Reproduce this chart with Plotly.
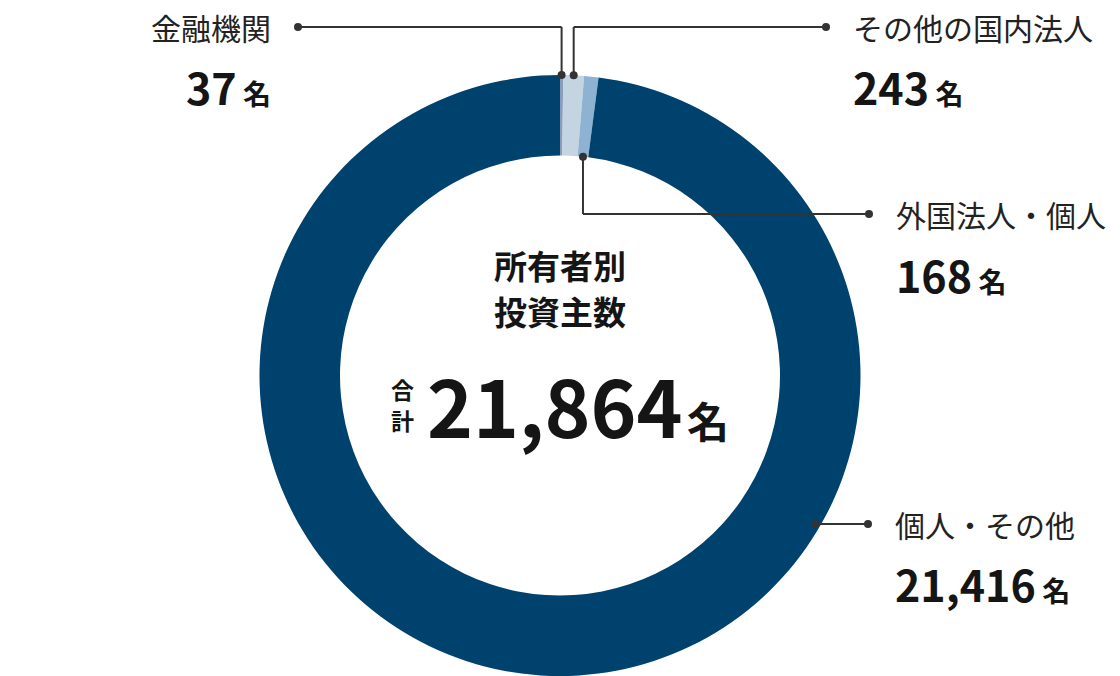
import math
import plotly.graph_objects as go

# ---- data ----
categories = ["金融機関", "その他の国内法人", "外国法人・個人", "個人・その他"]
values = [37, 243, 168, 21416]
colors = ["#8b9cba", "#c4d4e0", "#8db2d2", "#00426e"]
total_label = "21,864"
total_prefix = ["合", "計"]
center_title = ["所有者別", "投資主数"]
unit = "名"

W, H = 1120, 676
CX, CY, R_OUT, R_IN = 560, 375.5, 300.5, 220

def px(x):
    return x / W

def py(y):
    return 1 - y / H

fig = go.Figure()
fig.add_trace(go.Pie(
    labels=categories, values=values, sort=False, direction="clockwise", rotation=0,
    hole=R_IN / R_OUT, marker=dict(colors=colors, line=dict(width=0)),
    textinfo="none", hoverinfo="skip", showlegend=False,
    domain=dict(x=[(CX - R_OUT) / W, (CX + R_OUT) / W], y=[0, 1 - (CY - R_OUT) / H]),
))

# anchor points derived from the data (mid angle of each slice)
tot = sum(values)
cum = 0
mids = []
for v in values:
    mids.append((cum + v / 2) / tot * 2 * math.pi)
    cum += v

def ring_pt(i, r):
    a = mids[i]
    return CX + r * math.sin(a), CY - r * math.cos(a)

LINE = "#333333"
shapes = []
dots = []

def poly(points):
    for (x0, y0), (x1, y1) in zip(points[:-1], points[1:]):
        shapes.append(dict(type="line", xref="paper", yref="paper",
                           x0=px(x0), y0=py(y0), x1=px(x1), y1=py(y1),
                           line=dict(color=LINE, width=2)))
    for p in (points[0], points[-1]):
        dots.append(p)

# 金融機関
ax, ay = ring_pt(0, R_OUT)
poly([(ax, ay), (ax, 27), (298, 27)])
# その他の国内法人
bx, by = ring_pt(1, R_OUT)
poly([(bx, by), (bx, 27), (826, 27)])
# 外国法人・個人
cx_, cy_ = ring_pt(2, R_IN)
poly([(cx_, cy_), (cx_, 214), (869, 214)])
# 個人・その他
poly([(815, 524), (868, 524)])

for (x, y) in dots:
    r = 4
    shapes.append(dict(type="circle", xref="paper", yref="paper",
                       x0=px(x - r), x1=px(x + r), y0=py(y + r), y1=py(y - r),
                       fillcolor=LINE, line=dict(width=0)))

FONT = "Noto Sans CJK JP"
ann = []

def label(text, x, y, anchor):
    ann.append(dict(text=text, x=px(x), y=py(y), xref="paper", yref="paper",
                    xanchor=anchor, yanchor="middle", showarrow=False,
                    font=dict(family=FONT, size=30, color="#222222")))

def number(val, x, y, anchor):
    t = f"<b>{val}</b><span style='font-size:28px'><b> {unit}</b></span>"
    ann.append(dict(text=t, x=px(x), y=py(y), xref="paper", yref="paper",
                    xanchor=anchor, yanchor="middle", showarrow=False,
                    font=dict(family=FONT, size=43, color="#151515")))

label(categories[0], 273, 27, "right")
number(f"{values[0]:,}", 273, 86, "right")
label(categories[1], 851, 27, "left")
number(f"{values[1]:,}", 851, 86, "left")
label(categories[2], 894, 214, "left")
number(f"{values[2]:,}", 894, 274, "left")
label(categories[3], 893, 524, "left")
number(f"{values[3]:,}", 893, 583, "left")

# center text
for i, t in enumerate(center_title):
    ann.append(dict(text=f"<b>{t}</b>", x=px(560), y=py(265 + 46 * i), xref="paper", yref="paper",
                    xanchor="center", yanchor="middle", showarrow=False,
                    font=dict(family=FONT, size=33, color="#151515")))
for i, t in enumerate(total_prefix):
    ann.append(dict(text=f"<b>{t}</b>", x=px(402), y=py(389 + 31 * i), xref="paper", yref="paper",
                    xanchor="center", yanchor="middle", showarrow=False, borderpad=0,
                    font=dict(family=FONT, size=23, color="#151515")))
ann.append(dict(text=f"<b>{total_label}</b><span style='font-size:20px'> </span>"
                     f"<span style='font-size:42px'><b>{unit}</b></span>",
                x=px(426), y=py(404), xref="paper", yref="paper",
                xanchor="left", yanchor="middle", showarrow=False, borderpad=0,
                font=dict(family=FONT, size=78, color="#151515")))

fig.update_layout(
    width=W, height=H, margin=dict(l=0, r=0, t=0, b=0),
    paper_bgcolor="white", plot_bgcolor="white",
    shapes=shapes, annotations=ann,
)
fig.write_html("out.html", config={"displayModeBar": False},
               post_script="document.body.style.margin='0';")
